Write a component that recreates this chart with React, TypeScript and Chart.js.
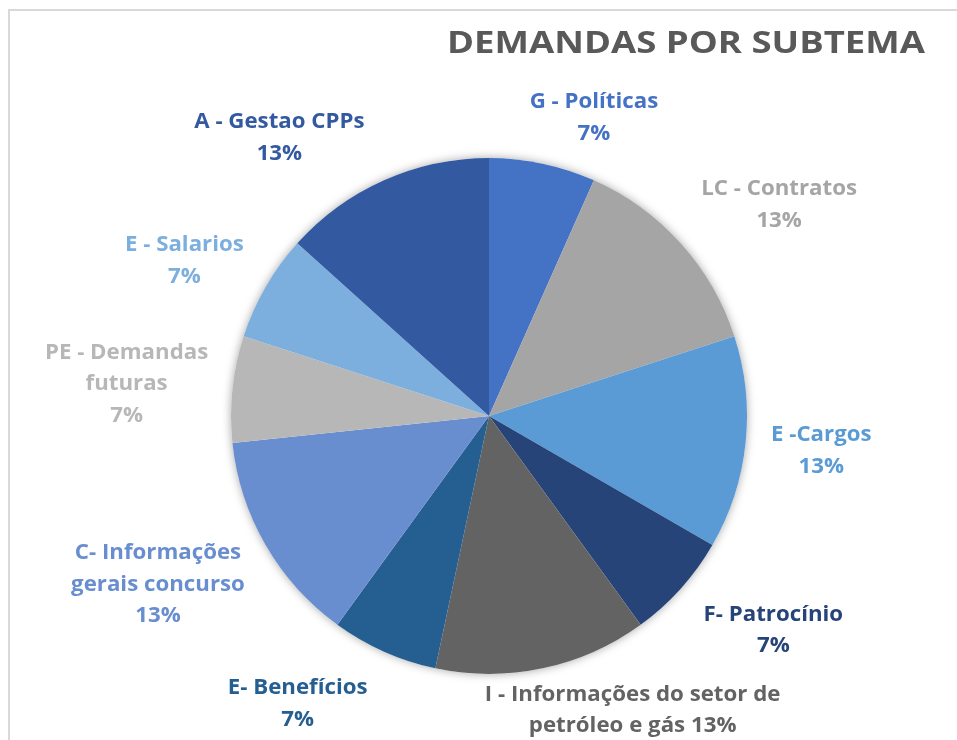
import React, { useEffect, useRef } from "react";
import { Chart, registerables } from "chart.js";

Chart.register(...registerables);

// ---- Data ----
const titleText = "DEMANDAS POR SUBTEMA";
const categories = [
  "G - Políticas",
  "LC - Contratos",
  "E -Cargos",
  "F- Patrocínio",
  "I - Informações do setor de petróleo e gás",
  "E- Benefícios",
  "C- Informações gerais concurso",
  "PE - Demandas futuras",
  "E - Salarios",
  "A - Gestao CPPs",
];
const values = [1, 2, 2, 1, 2, 1, 2, 1, 1, 2];
// label text broken into lines; "{p}" is replaced by the computed percentage
const labelLines = [
  ["G - Políticas", "{p}"],
  ["LC - Contratos", "{p}"],
  ["E -Cargos", "{p}"],
  ["F- Patrocínio", "{p}"],
  ["I - Informações do setor de", "petróleo e gás {p}"],
  ["E- Benefícios", "{p}"],
  ["C- Informações", "gerais concurso", "{p}"],
  ["PE - Demandas", "futuras", "{p}"],
  ["E - Salarios", "{p}"],
  ["A - Gestao CPPs", "{p}"],
];

// ---- Styles ----
const sliceColors = [
  "#4472C4",
  "#A5A5A5",
  "#5B9BD5",
  "#264478",
  "#636363",
  "#255E91",
  "#698ED0",
  "#B7B7B7",
  "#7CAFDD",
  "#335AA1",
];
const labelColors = [
  "#4472C4",
  "#A5A5A5",
  "#5B9BD5",
  "#264478",
  "#636363",
  "#255E91",
  "#698ED0",
  "#B7B7B7",
  "#7CAFDD",
  "#335AA1",
];
// label placement relative to the slice: angle shift (deg) and radius factor
const labelAngleShift = [7.4, 6, 0, -5, -14, 9.6, 3, -1, -3, -13];
const labelRadiusFactor = [1.225, 1.39, 1.295, 1.38, 1.27, 1.34, 1.44, 1.41, 1.325, 1.35];

const FONT = "'Open Sans', Lato, sans-serif";

const pieDecor = {
  id: "pieDecor",
  beforeDatasetsDraw(chart: any) {
    const meta = chart.getDatasetMeta(0);
    const arc = meta.data[0];
    if (!arc) return;
    const { x, y, outerRadius } = arc.getProps(["x", "y", "outerRadius"], true);
    const ctx = chart.ctx;
    ctx.save();
    ctx.beginPath();
    ctx.arc(x, y, outerRadius, 0, Math.PI * 2);
    ctx.fillStyle = "#ffffff";
    ctx.shadowColor = "rgba(0,0,0,0.35)";
    ctx.shadowBlur = 10;
    ctx.fill();
    ctx.restore();
  },
  afterDraw(chart: any) {
    const ctx = chart.ctx;
    const meta = chart.getDatasetMeta(0);
    const total = values.reduce((a, b) => a + b, 0);
    ctx.save();
    // title: right aligned, fitted to the reference width
    ctx.font = `bold 30px ${FONT}`;
    ctx.fillStyle = "#595959";
    ctx.textAlign = "left";
    ctx.textBaseline = "alphabetic";
    const tw = ctx.measureText(titleText).width;
    const targetW = 478;
    ctx.save();
    ctx.translate(925 - targetW, 53);
    ctx.scale(targetW / tw, 1);
    ctx.fillText(titleText, 0, 0);
    ctx.restore();

    ctx.font = `bold 21px ${FONT}`;
    ctx.textAlign = "center";
    ctx.textBaseline = "middle";
    const lh = 31.5;
    const sx = 1.06;
    meta.data.forEach((arc: any, i: number) => {
      const p = arc.getProps(["x", "y", "startAngle", "endAngle", "outerRadius"], true);
      const mid = (p.startAngle + p.endAngle) / 2 + (labelAngleShift[i] * Math.PI) / 180;
      const r = p.outerRadius * labelRadiusFactor[i];
      const cx = p.x + Math.cos(mid) * r;
      const cy = p.y + Math.sin(mid) * r;
      const pct = Math.round((values[i] / total) * 100) + "%";
      const lines = labelLines[i].map((s) => s.replace("{p}", pct));
      const top = cy - ((lines.length - 1) * lh) / 2;
      ctx.fillStyle = labelColors[i];
      lines.forEach((ln, k) => {
        ctx.save();
        ctx.translate(cx, top + k * lh);
        ctx.scale(sx, 1);
        ctx.fillText(ln, 0, 0);
        ctx.restore();
      });
    });
    ctx.restore();
  },
};

export default function App() {
  const ref = useRef<HTMLCanvasElement | null>(null);
  useEffect(() => {
    if (!ref.current) return;
    const chart = new Chart(ref.current, {
      type: "pie",
      data: {
        labels: categories,
        datasets: [
          {
            data: values,
            backgroundColor: sliceColors,
            borderWidth: 0,
          },
        ],
      },
      options: {
        responsive: false,
        animation: false,
        layout: { padding: { top: 158, bottom: 66, left: 231, right: 210 } },
        plugins: {
          legend: { display: false },
          tooltip: { enabled: false },
          title: { display: false },
        },
      },
      plugins: [pieDecor],
    });
    return () => chart.destroy();
  }, []);
  return (
    <div style={{ position: "fixed", left: 0, top: 0, width: 957, height: 740, background: "#fff", overflow: "hidden" }}>
      <div
        style={{
          position: "absolute",
          left: 8,
          top: 9,
          width: 1000,
          height: 800,
          borderLeft: "2px solid #d9d9d9",
          borderTop: "2px solid #d9d9d9",
        }}
      />
      <canvas ref={ref} width={957} height={740} style={{ position: "absolute", left: 0, top: 0 }} />
    </div>
  );
}
